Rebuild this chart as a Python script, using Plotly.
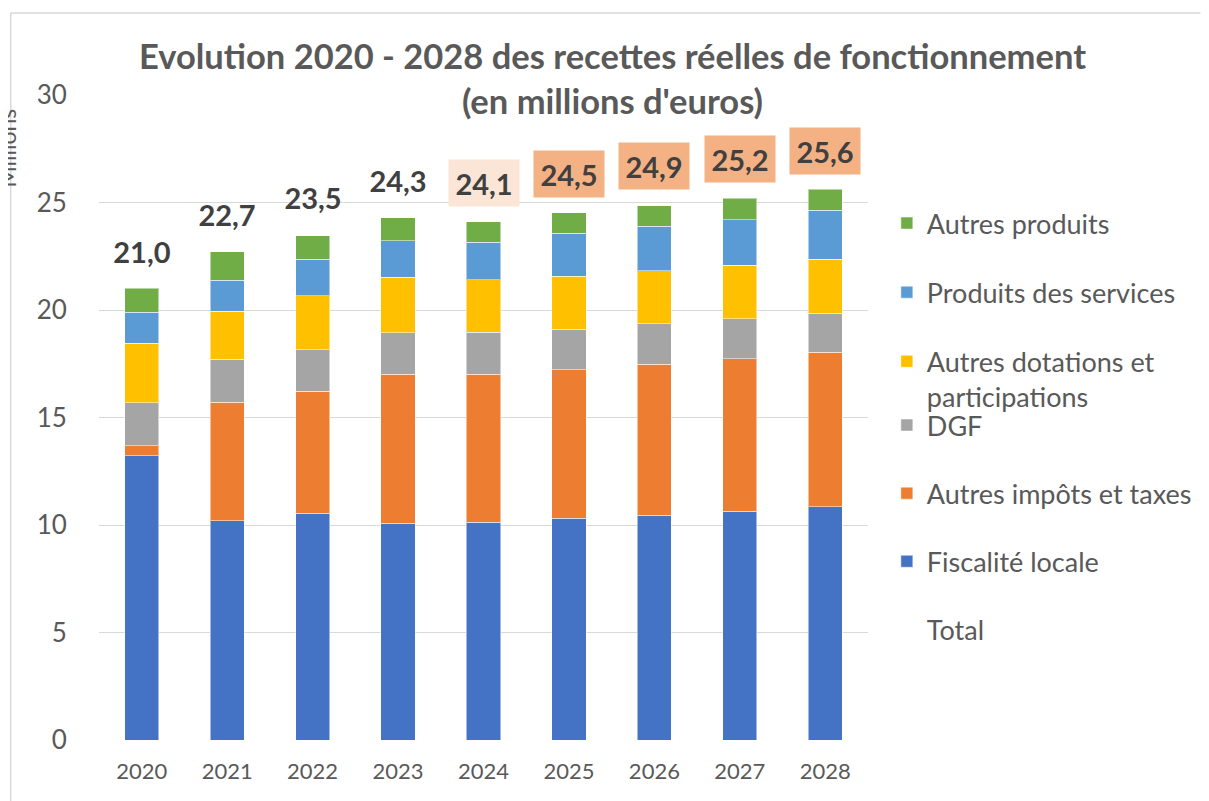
import plotly.graph_objects as go

years = ["2020", "2021", "2022", "2023", "2024", "2025", "2026", "2027", "2028"]

fiscalite_locale = [13.21, 10.19, 10.55, 10.09, 10.12, 10.31, 10.46, 10.65, 10.84]
autres_impots = [0.47, 5.53, 5.68, 6.93, 6.90, 6.90, 7.02, 7.09, 7.20]
dgf = [2.00, 1.99, 1.92, 1.92, 1.95, 1.90, 1.89, 1.86, 1.80]
autres_dotations = [2.77, 2.23, 2.51, 2.58, 2.43, 2.46, 2.46, 2.48, 2.53]
produits_services = [1.44, 1.44, 1.70, 1.71, 1.76, 2.01, 2.07, 2.12, 2.27]
autres_produits = [1.13, 1.34, 1.10, 1.07, 0.95, 0.95, 0.95, 0.99, 0.97]
totals = [21.0, 22.7, 23.5, 24.3, 24.1, 24.5, 24.9, 25.2, 25.6]

y_ticks = [0, 5, 10, 15, 20, 25, 30]

# label styling (not data)
label_fill = ["rgba(0,0,0,0)"] * 4 + ["#FBE5D6"] + ["#F4B183"] * 4
label_shift = [38, 38, 38, 38, 39, 39, 39, 39, 39]

FONT = "Lato"
GREY = "#595959"

series = [
    ("Fiscalité locale", fiscalite_locale, "#4472C4", "legend2", 6),
    ("Autres impôts et taxes", autres_impots, "#ED7D31", "legend2", 5),
    ("DGF", dgf, "#A5A5A5", "legend2", 4),
    ("Autres dotations et<br>participations", autres_dotations, "#FFC000", "legend", 3),
    ("Produits des services", produits_services, "#5B9BD5", "legend", 2),
    ("Autres produits", autres_produits, "#70AD47", "legend", 1),
]

fig = go.Figure()
for name, vals, color, leg, rank in series:
    fig.add_trace(go.Bar(
        x=years, y=vals, name=name, width=0.4,
        marker=dict(color=color, line=dict(color="rgba(255,255,255,0.5)", width=1)),
        legend=leg, legendrank=rank, legendgroup=name,
        hoverinfo="skip",
    ))

fig.add_trace(go.Scatter(
    x=years, y=totals, name="Total", mode="lines",
    line=dict(color="rgba(0,0,0,0)", width=0),
    legend="legend2", legendrank=7, legendgroup="Total", hoverinfo="skip",
))

for i, (t, fill, sh) in enumerate(zip(totals, label_fill, label_shift)):
    fig.add_annotation(
        x=i, y=t, xref="x", yref="y",
        text=f"{t:.1f}".replace(".", ","),
        showarrow=False, yanchor="middle", yshift=sh,
        font=dict(family=FONT, size=29, color="#404040", weight="bold"),
        bgcolor=fill, borderpad=4, width=62, height=38,
    )

# page body adds an 8px offset; work in screen pixels and convert
OFF = 8
W, H = 1201, 793
L, R, T, B = 99 - OFF, 335, 95 - OFF, 61
pw, ph = W - L - R, H - T - B

def px_x(s):
    return (s - OFF - L) / pw

def px_y(s):
    return (H - B - (s - OFF)) / ph

fig.add_annotation(
    text="Millions", xref="paper", yref="paper",
    x=px_x(22), y=px_y(148), showarrow=False, textangle=-90,
    font=dict(family=FONT, size=23, color=GREY), xanchor="right", yanchor="middle",
)

# outer chart border (left and top)
fig.add_shape(type="line", xref="paper", yref="paper",
              x0=px_x(10), x1=px_x(10), y0=px_y(13), y1=px_y(801),
              line=dict(color="#D9D9D9", width=1.5))
fig.add_shape(type="line", xref="paper", yref="paper",
              x0=px_x(10), x1=px_x(1209), y0=px_y(13), y1=px_y(13),
              line=dict(color="#D9D9D9", width=1.5))

fig.update_layout(
    width=W, height=H,
    margin=dict(l=L, r=R, t=T, b=B),
    paper_bgcolor="white", plot_bgcolor="white",
    barmode="stack", bargap=0.6,
    font=dict(family=FONT, color=GREY),
    title=dict(
        text="Evolution 2020 - 2028 des recettes réelles de fonctionnement<br>(en millions d'euros)",
        x=604.5 / W, xref="container", xanchor="center",
        y=1 - 61 / H, yref="container", yanchor="top",
        font=dict(family=FONT, size=34.5, color=GREY, weight="bold"),
    ),
    xaxis=dict(
        type="category", showgrid=False, showline=False, zeroline=False,
        ticks="outside", ticklen=12, tickcolor="rgba(0,0,0,0)",
        tickfont=dict(family=FONT, size=22, color=GREY),
    ),
    yaxis=dict(
        range=[0, 30], tickvals=y_ticks, ticktext=[str(v) for v in y_ticks],
        showgrid=True, gridcolor="#D9D9D9", gridwidth=1.3,
        zeroline=False, showline=False,
        ticks="outside", ticklen=26, tickcolor="rgba(0,0,0,0)",
        tickfont=dict(family=FONT, size=26, color=GREY),
    ),
    legend=dict(
        x=px_x(893), y=px_y(199), xanchor="left", yanchor="top",
        traceorder="grouped", tracegroupgap=31, valign="top",
        font=dict(family=FONT, size=27, color=GREY), bgcolor="rgba(0,0,0,0)",
    ),
    legend2=dict(
        x=px_x(893), y=px_y(401), xanchor="left", yanchor="top",
        traceorder="grouped", tracegroupgap=30, valign="top",
        font=dict(family=FONT, size=27, color=GREY), bgcolor="rgba(0,0,0,0)",
    ),
    showlegend=True,
)

fig.write_html("out.html")
